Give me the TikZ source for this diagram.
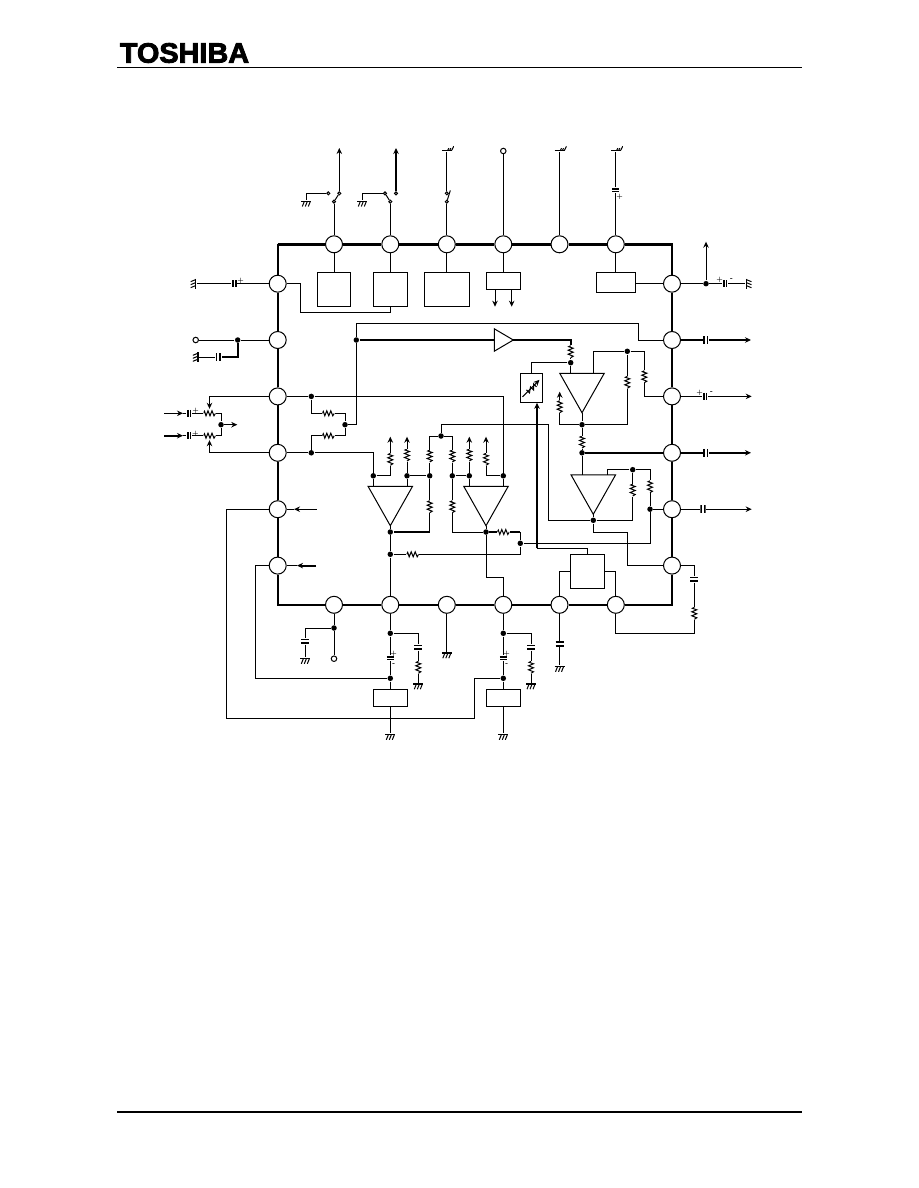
\documentclass[tikz,border=0pt]{standalone}
\usepackage{fontspec}
\usetikzlibrary{shapes.geometric}
\usetikzlibrary{arrows.meta}
\newfontfamily\logofont[FakeStretch=1.03,FakeBold=3]{Liberation Sans Bold}
\tikzstyle{arrow} = [->,>={Stealth[length=6pt,width=5.5pt]}]
\tikzstyle{bus} = [line width=2pt]
\tikzstyle{border} = [line width=2.4pt]
\tikzstyle{pad} = [circle, draw=black, minimum size=17, inner sep=0pt]
\tikzstyle{junction} = [circle, fill=black, minimum size=5.5, inner sep=0pt]
\tikzstyle{term} = [circle, draw=black, minimum size=3, inner sep=0pt]
\tikzstyle{openpad} = [circle, draw=black, minimum size=5.5, inner sep=0pt]
\tikzstyle{block} = [rectangle, draw=black, inner sep=0pt]
\tikzstyle{amp} = [isosceles triangle, isosceles triangle stretches, draw=black, inner sep=0pt, outer sep=0pt,
shape border rotate=-90, minimum width=44.5, minimum height=39.4, anchor=apex]
\tikzstyle{sign} = [font=\fontsize{6.5}{6.5}\selectfont\bfseries, inner sep=0pt]
\tikzstyle{resv} = [rectangle, inner sep=0pt, minimum width=8, minimum height=12, path picture={
\draw[shift={(path picture bounding box.center)}] (0,-6) -- (-2,-5) -- (2.5,-3.5) -- (-2.5,-1.5) -- (2.5,0.5) -- (-2.5,2.5) -- (2.5,4.5) -- (0,6);}]
\tikzstyle{resh} = [rectangle, inner sep=0pt, minimum width=12, minimum height=8, path picture={
\draw[shift={(path picture bounding box.center)}] (-6,0) -- (-5,-2) -- (-3.5,2.5) -- (-1.5,-2.5) -- (0.5,2.5) -- (2.5,-2.5) -- (4.5,2.5) -- (6,0);}]
\tikzstyle{capv} = [rectangle, inner sep=0pt, minimum width=10, minimum height=5.4, path picture={
\draw[shift={(path picture bounding box.center)},line width=1.6pt] (-4,-1.9) -- (4,-1.9) (-4,1.9) -- (4,1.9);}]
\tikzstyle{caph} = [rectangle, inner sep=0pt, minimum width=5.4, minimum height=10, path picture={
\draw[shift={(path picture bounding box.center)},line width=1.6pt] (-1.9,-4) -- (-1.9,4) (1.9,-4) -- (1.9,4);}]
\tikzstyle{pcapv} = [rectangle, inner sep=0pt, minimum width=10, minimum height=5, path picture={
\draw[shift={(path picture bounding box.center)},line width=2pt] (-3.5,-1.3) -- (3.5,-1.3) (-3.5,1.3) -- (3.5,1.3);
\draw[shift={(path picture bounding box.center)},white,line width=0.5pt] (-4,0) -- (4,0);}]
\tikzstyle{pcaph} = [rectangle, inner sep=0pt, minimum width=5, minimum height=10, path picture={
\draw[shift={(path picture bounding box.center)},line width=2pt] (-1.3,-3.5) -- (-1.3,3.5) (1.3,-3.5) -- (1.3,3.5);
\draw[shift={(path picture bounding box.center)},white,line width=0.5pt] (0,-4) -- (0,4);}]
\tikzstyle{gnddown} = [rectangle, inner sep=0pt, minimum width=14, minimum height=6, anchor=north, path picture={
\draw[shift={(path picture bounding box.center)}] (-2,-2) -- (-4,3) (1,-2) -- (-1,3) (4,-2) -- (2,3);
\draw[shift={(path picture bounding box.center)},line width=1.4pt] (-5,-2.2) -- (5,-2.2);}]
\tikzstyle{gndup} = [rectangle, inner sep=0pt, minimum width=14, minimum height=6, anchor=south, path picture={
\draw[shift={(path picture bounding box.center)}] (1,2) -- (2,0) (3,2) -- (4,0) (5,2) -- (7,-2);
\draw[shift={(path picture bounding box.center)},line width=1.4pt] (-5,2.2) -- (5,2.2);}]
\tikzstyle{gndleft} = [rectangle, inner sep=0pt, minimum width=6, minimum height=14, anchor=east, path picture={
\draw[shift={(path picture bounding box.center)}] (2,-4) -- (-3,-2) (2,-1) -- (-3,1) (2,2) -- (-3,4);
\draw[shift={(path picture bounding box.center)},line width=1.4pt] (2.2,-5) -- (2.2,5);}]
\tikzstyle{gndright} = [rectangle, inner sep=0pt, minimum width=6, minimum height=14, anchor=west, path picture={
\draw[shift={(path picture bounding box.center)}] (-2,-4) -- (3,-2) (-2,-1) -- (3,1) (-2,2) -- (3,4);
\draw[shift={(path picture bounding box.center)},line width=1.4pt] (-2.2,-5) -- (-2.2,5);}]

\begin{document}
\begin{tikzpicture}[x=1pt,y=-1pt,line width=1pt]
	\useasboundingbox (0,0) rectangle (918,1188);
	% header and footer
	\node (logo) at (184.5,53) {\logofont\fontsize{28}{28}\selectfont TOSHIBA};
	\coordinate (hl) at (117,68);
	\coordinate (hr) at (802,68);
	\coordinate (fl) at (117,1112);
	\coordinate (fr) at (802,1112);
	\draw (hl) -- (hr);
	\draw[line width=1.6pt] (fl) -- (fr);
	% pads
	\node (t1) at (334,244.3) [pad] {};
	\node (t2) at (390.3,244.3) [pad] {};
	\node (t3) at (446.8,244.3) [pad] {};
	\node (t4) at (503.3,244.3) [pad] {};
	\node (t5) at (559.5,244.3) [pad] {};
	\node (t6) at (615.8,244.3) [pad] {};
	\node (b1) at (334,604.8) [pad] {};
	\node (b2) at (390.3,604.8) [pad] {};
	\node (b3) at (446.8,604.8) [pad] {};
	\node (b4) at (503.3,604.8) [pad] {};
	\node (b5) at (559.5,604.8) [pad] {};
	\node (b6) at (615.8,604.8) [pad] {};
	\node (l1) at (277.7,283.7) [pad] {};
	\node (l2) at (277.7,340) [pad] {};
	\node (l3) at (277.7,396.4) [pad] {};
	\node (l4) at (277.7,452.8) [pad] {};
	\node (l5) at (277.7,509.2) [pad] {};
	\node (l6) at (277.7,565.6) [pad] {};
	\node (r1) at (672,283.7) [pad] {};
	\node (r2) at (672,340) [pad] {};
	\node (r3) at (672,396.4) [pad] {};
	\node (r4) at (672,452.8) [pad] {};
	\node (r5) at (672,509.2) [pad] {};
	\node (r6) at (672,565.6) [pad] {};
	\coordinate (ctl) at (277.7,244.3);
	\coordinate (ctr) at (672,244.3);
	\coordinate (cbr) at (672,604.8);
	\coordinate (cbl) at (277.7,604.8);
	\draw[border] (ctl) -- (t1) (t1) -- (t2) (t2) -- (t3) (t3) -- (t4) (t4) -- (t5) (t5) -- (t6) (t6) -- (ctr) -- (r1);
	\draw[border] (r1) -- (r2) (r2) -- (r3) (r3) -- (r4) (r4) -- (r5) (r5) -- (r6) (r6) -- (cbr) -- (b6);
	\draw[border] (b6) -- (b5) (b5) -- (b4) (b4) -- (b3) (b3) -- (b2) (b2) -- (b1) (b1) -- (cbl) -- (l6);
	\draw[border] (l6) -- (l5) (l5) -- (l4) (l4) -- (l3) (l3) -- (l2) (l2) -- (l1) (l1) -- (ctl);
	% top side
	\node (t1sw) at (334,201.7) [term] {};
	\node (t1a) at (339.3,193.3) [term] {};
	\node (t1b) at (328.3,193.3) [term] {};
	\node (t1g) at (306.3,200) [gnddown] {};
	\coordinate (t1out) at (339.3,148);
	\draw (t1) -- (t1sw);
	\draw (t1sw) -- (t1a);
	\draw[arrow] (t1a) -- (t1out);
	\draw (t1b) -| (t1g);
	\node (t2sw) at (390.3,201.7) [term] {};
	\node (t2a) at (385,193.3) [term] {};
	\node (t2b) at (396,193.3) [term] {};
	\node (t2g) at (362.3,200) [gnddown] {};
	\coordinate (t2out) at (396,148);
	\draw (t2) -- (t2sw);
	\draw (t2sw) -- (t2a);
	\draw[arrow,bus] (t2b) -- (t2out);
	\draw (t2a) -| (t2g);
	\node (t3sw) at (446.8,201.7) [term] {};
	\node (t3a) at (446.8,193.3) [term] {};
	\node (t3g) at (446.8,151.7) [gndup] {};
	\coordinate (t3c) at (450.3,190.5);
	\draw (t3) -- (t3sw);
	\draw (t3sw) -- (t3c);
	\draw (t3a) -- (t3g);
	\node (t4end) at (503.3,151) [openpad] {};
	\draw (t4) -- (t4end);
	\node (t5g) at (559.5,151.7) [gndup] {};
	\draw (t5) -- (t5g);
	\node (t6c) at (615.8,190) [pcapv] {};
	\node (t6g) at (615.8,151.7) [gndup] {};
	\node (t6s) at (619.5,196.7) [sign] {+};
	\draw (t6) -- (t6c);
	\draw (t6c) -- (t6g);
	\node (bx1) at (334,289.3) [block, minimum width=33.4, minimum height=34] {};
	\node (bx2) at (390.3,289.3) [block, minimum width=34, minimum height=34] {};
	\node (bx3) at (446.8,289.3) [block, minimum width=45, minimum height=34] {};
	\node (bx4) at (503.3,280.8) [block, minimum width=34, minimum height=17] {};
	\node (bx6) at (615.8,282.3) [block, minimum width=39, minimum height=20] {};
	\draw (t1) -- (bx1);
	\draw (t2) -- (bx2);
	\draw (t3) -- (bx3);
	\draw (t4) -- (bx4);
	\draw (t6) -- (bx6);
	\draw (bx6.east |- r1) -- (r1);
	\coordinate (bx4l) at (495,289.3);
	\coordinate (bx4r) at (511.7,289.3);
	\coordinate (out4l) at (495,306.7);
	\coordinate (out4r) at (511.7,306.7);
	\draw[arrow] (bx4l) -- (out4l);
	\draw[arrow] (bx4r) -- (out4r);
	\coordinate (k1) at (300.3,283.7);
	\coordinate (k2) at (300.3,312.3);
	\draw (l1) -- (k1) -- (k2) -| (bx2);
	% left side
	\node (cl1) at (234.3,283.7) [pcaph] {};
	\node (gl1) at (197,283.7) [gndleft] {};
	\node (sl1) at (240.7,280.7) [sign] {+};
	\draw (l1) -- (cl1);
	\draw (cl1) -- (gl1);
	\node (el2) at (195.7,340) [openpad] {};
	\node (jl2) at (237.7,340) [junction] {};
	\node (cl2) at (218.3,357.3) [caph] {};
	\node (gl2) at (199.3,357.3) [gndleft] {};
	\draw (l2) -- (jl2);
	\draw (jl2) -- (el2);
	\draw[bus] (jl2) |- (cl2);
	\draw (cl2) -- (gl2);
	\coordinate (in1) at (164,413.3);
	\coordinate (in1h) at (183,413.3);
	\coordinate (in2) at (164,435.7);
	\coordinate (in2h) at (183,435.7);
	\node (cin1) at (189,413.3) [pcaph] {};
	\node (cin2) at (189,435.7) [pcaph] {};
	\node (sin1) at (195.7,411) [sign] {+};
	\node (sin2) at (195.3,433.5) [sign] {+};
	\node (rv1) at (209.5,413.3) [resh] {};
	\node (rv2) at (209.5,435.7) [resh] {};
	\node (jsum) at (221,424.7) [junction] {};
	\coordinate (sumout) at (237.3,424.7);
	\draw[arrow] (in1) -- (in1h);
	\draw (in1h) -- (cin1);
	\draw[arrow,bus] (in2) -- (in2h);
	\draw (in2h) -- (cin2);
	\draw (cin1) -- (rv1);
	\draw (cin2) -- (rv2);
	\draw (rv1) -| (jsum);
	\draw (rv2) -| (jsum);
	\draw[arrow] (jsum) -- (sumout);
	\draw[arrow] (l3) -| (rv1);
	\draw[arrow] (l4) -| (rv2);
	\coordinate (in5) at (316.7,509.2);
	\coordinate (in5h) at (294,509.2);
	\coordinate (in6) at (316,565.6);
	\coordinate (in6h) at (297,565.6);
	\draw[arrow] (in5) -- (in5h);
	\draw (in5h) -- (l5);
	\draw[arrow,bus] (in6) -- (in6h);
	\draw (in6h) -- (l6);
	% mixer inputs
	\node (jl3) at (311.3,396.4) [junction] {};
	\node (jl4) at (311.3,452.8) [junction] {};
	\node (jm) at (345,424.7) [junction] {};
	\node (jn) at (356.3,340) [junction] {};
	\node (rf1) at (328.3,413.3) [resh] {};
	\node (rf2) at (328.3,435.7) [resh] {};
	\coordinate (k3) at (638.3,323.3);
	\draw (jl3) |- (rf1);
	\draw (rf1) -| (jm);
	\draw (jl4) |- (rf2);
	\draw (rf2) -| (jm);
	\draw (jm) -| (jn);
	\draw (jn) |- (k3) |- (r2);
	\draw (l3) -- (jl3);
	\draw (l4) -- (jl4);
	% buffer and upper amplifier
	\node (buf) at (513.3,340) [amp, shape border rotate=0, minimum width=22.4, minimum height=19] {};
	\node (ra1) at (570.7,351.7) [resv] {};
	\node (ja1) at (570.7,362.7) [junction] {};
	\coordinate (aa1) at (570.7,373.3);
	\node (ampa) at (582,412.7) [amp] {};
	\draw[bus] (jn) -- (buf);
	\draw[bus] (buf) -| (ra1);
	\draw (ra1) -- (ja1);
	\draw (ja1) -- (aa1);
	\node (vbox) at (531.5,387.8) [block, minimum width=22.4, minimum height=29, path picture={
	\draw[shift={(path picture bounding box.center)},arrow] (-9,9) -- (8,-8);
	\draw[shift={(path picture bounding box.center)}] (-5,2) -- (-2,5) -- (-1,-1) -- (2,2) -- (2,-4) -- (5,-1);}] {};
	\coordinate (k4) at (537,548.3);
	\draw (ja1) -| (vbox);
	\draw[arrow,bus] (k4) -- (k4 |- vbox.south);
	\node (jsw) at (587.3,571.3) [block, minimum width=34, minimum height=34] {};
	\draw (k4) -| (jsw);
	\draw (jsw.west) -| (b5);
	\draw (jsw.east) -| (b6);
	\node (ja2) at (582,424.7) [junction] {};
	\node (ra2) at (559.7,406.7) [resv] {};
	\coordinate (ra2out) at (559.7,391.7);
	\node (ra3) at (627.3,382.3) [resv] {};
	\node (ja3) at (627.3,351.3) [junction] {};
	\coordinate (aa2) at (593.3,373.3);
	\node (ra4) at (644.3,376.7) [resv] {};
	\node (ra5) at (582,442) [resv] {};
	\node (jb1) at (582,452.8) [junction] {};
	\coordinate (ab1) at (582,475);
	\draw (ampa.apex) -- (ja2);
	\draw (ja2) -| (ra2);
	\draw[arrow] (ra2) -- (ra2out);
	\draw (ja2) -| (ra3);
	\draw (ra3) -- (ja3);
	\draw (ja3) -| (aa2);
	\draw (ja3) -| (ra4);
	\draw (ra4) |- (r3);
	\draw (ja2) -- (ra5);
	\draw (ra5) -- (jb1);
	\draw[bus] (jb1) -- (r4);
	\draw (jb1) -- (ab1);
	% lower right amplifier
	\node (ampb) at (593.3,514.3) [amp] {};
	\node (jb2) at (593.3,520.3) [junction] {};
	\node (jc) at (441,436) [junction] {};
	\coordinate (k5) at (548.3,424.7);
	\node (rb1) at (632.7,490) [resv] {};
	\node (jb3) at (632.7,469.7) [junction] {};
	\coordinate (ab2) at (607.3,475);
	\node (rb2) at (650,486.7) [resv] {};
	\node (jr5) at (650,509.2) [junction] {};
	\node (jo) at (520.3,543.3) [junction] {};
	\coordinate (k6) at (627.3,532.3);
	\draw (ampb.apex) -- (jb2);
	\draw (jb2) -| (k5) -| (jc);
	\draw (jb2) -| (rb1);
	\draw (rb1) -- (jb3);
	\draw (jb3) -| (ab2);
	\draw (jb3) -| (rb2);
	\draw (rb2) -- (jr5);
	\draw (jr5) -- (r5);
	\draw (jr5) |- (jo);
	\draw (jb2) |- (k6) |- (r6);
	% lower left amplifiers
	\node (ampc) at (390.3,525.7) [amp] {};
	\node (ampd) at (486,525.7) [amp] {};
	\node (jc1) at (390.3,532) [junction] {};
	\node (jd1) at (486,532) [junction] {};
	\node (jc2) at (373.3,475.8) [junction] {};
	\node (jc3) at (407,475.8) [junction] {};
	\node (jc4) at (429.7,475.8) [junction] {};
	\node (jd2) at (452.3,475.8) [junction] {};
	\node (jd3) at (469.3,475.8) [junction] {};
	\node (jd4) at (503.3,475.8) [junction] {};
	\node (jc5) at (390.3,554.3) [junction] {};
	\coordinate (ac1) at (373.3,486.3);
	\coordinate (ac2) at (407,486.3);
	\coordinate (ad1) at (469.3,486.3);
	\coordinate (ad2) at (503.3,486.3);
	\node (rc1) at (390.3,459.3) [resv] {};
	\node (rc2) at (407,455) [resv] {};
	\node (rc3) at (429.7,456) [resv] {};
	\node (rc4) at (429.7,506.7) [resv] {};
	\node (rd1) at (452.3,456) [resv] {};
	\node (rd2) at (452.3,506.7) [resv] {};
	\node (rd3) at (469.3,455) [resv] {};
	\node (rd4) at (486,459.3) [resv] {};
	\node (rd5) at (503.3,532) [resh] {};
	\node (rs) at (412.7,554.3) [resh] {};
	\coordinate (oc1) at (390.3,436.7);
	\coordinate (oc2) at (407,436.7);
	\coordinate (od3) at (469.3,436.7);
	\coordinate (od4) at (486,436.7);
	\coordinate (k7) at (429.7,532);
	\coordinate (k8) at (520.3,532);
	\coordinate (k9) at (503.3,577);
	\draw (jl4) -| (jc2);
	\draw (jc2) -- (ac1);
	\draw (jc2) -| (rc1);
	\draw[arrow] (rc1) -- (oc1);
	\draw (jc3) -- (jc4);
	\draw (jc3) -- (ac2);
	\draw (jc3) -- (rc2);
	\draw[arrow] (rc2) -- (oc2);
	\draw (jc4) -- (rc3);
	\draw (rc3) |- (jc);
	\draw (jc4) -- (rc4);
	\draw (rc4) -- (k7);
	\draw[bus] (k7) -- (jc1);
	\draw (ampc.apex) -- (jc1);
	\draw (jc1) -- (jc5);
	\draw (jc5) -- (b2);
	\draw (jc5) -- (rs);
	\draw (rs) -| (jo);
	\draw (jc) -| (rd1);
	\draw (rd1) -- (jd2);
	\draw (jd2) -- (rd2);
	\draw (rd2) |- (jd1);
	\draw (jd2) -- (jd3);
	\draw (jd3) -- (ad1);
	\draw (jd3) -- (rd3);
	\draw[arrow] (rd3) -- (od3);
	\draw (jd4) -| (rd4);
	\draw[arrow] (rd4) -- (od4);
	\draw (jd4) -- (ad2);
	\draw (jl3) -| (jd4);
	\draw[bus] (jd1) -- (rd5);
	\draw[bus] (rd5) -- (k8);
	\draw (k8) -- (jo);
	\draw (ampd.apex) -- (jd1);
	\draw (jd1) |- (k9) -- (b4);
	% right side
	\node (jr1) at (706,283.7) [junction] {};
	\node (cr1) at (725,283.7) [pcaph] {};
	\node (gr1) at (745,283.7) [gndright] {};
	\node (sr1a) at (719.5,280) [sign] {+};
	\node (sr1b) at (731.5,280) [sign] {-};
	\coordinate (or1) at (706,241.7);
	\draw (r1) -- (jr1);
	\draw[arrow] (jr1) -- (or1);
	\draw (jr1) -- (cr1);
	\draw (cr1) -- (gr1);
	\node (cr2) at (705.7,340) [caph] {};
	\coordinate (or2) at (751,340);
	\draw[bus] (r2) -- (cr2);
	\draw[arrow,bus] (cr2) -- (or2);
	\node (cr3) at (705,396.4) [pcaph] {};
	\node (sr3a) at (699.5,393) [sign] {+};
	\node (sr3b) at (711.5,393) [sign] {-};
	\coordinate (or3) at (751.7,396.4);
	\draw (r3) -- (cr3);
	\draw[arrow] (cr3) -- (or3);
	\node (cr4) at (705.7,452.8) [caph] {};
	\coordinate (or4) at (751,452.8);
	\draw[bus] (r4) -- (cr4);
	\draw[arrow,bus] (cr4) -- (or4);
	\node (cr5) at (703,509.2) [caph] {};
	\coordinate (or5) at (751.7,509.2);
	\draw (r5) -- (cr5);
	\draw[arrow] (cr5) -- (or5);
	\node (cr6) at (694.3,579.3) [capv] {};
	\node (rr6) at (694.3,613.3) [resv] {};
	\coordinate (k10) at (694.3,633.3);
	\draw (r6) -| (cr6);
	\draw (cr6) -- (rr6);
	\draw (rr6) -- (k10) -| (b6);
	% bottom side
	\node (jz1) at (334,628) [junction] {};
	\node (eb1) at (334,658.7) [openpad] {};
	\node (cb1) at (305.3,641.3) [capv] {};
	\node (gb1) at (305.3,657.3) [gnddown] {};
	\draw (b1) -- (jz1);
	\draw (jz1) -- (eb1);
	\draw (jz1) -| (cb1);
	\draw (cb1) -- (gb1);
	\node (jz2) at (390.3,633.3) [junction] {};
	\node (cb2) at (390.3,658) [pcapv] {};
	\node (sb2a) at (393.7,653.5) [sign] {+};
	\node (sb2b) at (393.7,664.5) [sign] {-};
	\node (jy2) at (390.3,678.3) [junction] {};
	\node (bx7) at (390.3,697.8) [block, minimum width=34, minimum height=17] {};
	\node (gb2) at (390.3,733.3) [gnddown] {};
	\node (cb2r) at (418.3,647.3) [capv] {};
	\node (rb2r) at (418.3,667.3) [resv] {};
	\node (gb2r) at (418.3,682.7) [gnddown] {};
	\draw (b2) -- (jz2);
	\draw (jz2) -- (cb2);
	\draw (cb2) -- (jy2);
	\draw (jy2) -- (bx7);
	\draw (bx7) -- (gb2);
	\draw (jz2) -| (cb2r);
	\draw (cb2r) -- (rb2r);
	\draw (rb2r) -- (gb2r);
	\node (gb3) at (446.8,651.7) [gnddown] {};
	\draw (b3) -- (gb3);
	\node (jz4) at (503.3,633.3) [junction] {};
	\node (cb4) at (503.3,658) [pcapv] {};
	\node (sb4a) at (506.7,653.5) [sign] {+};
	\node (sb4b) at (506.7,664.5) [sign] {-};
	\node (jy4) at (503.3,678.3) [junction] {};
	\node (bx8) at (503.3,697.8) [block, minimum width=34, minimum height=17] {};
	\node (gb4) at (503.3,733.3) [gnddown] {};
	\node (cb4r) at (531,647.3) [capv] {};
	\node (rb4r) at (531,667.3) [resv] {};
	\node (gb4r) at (531,682.7) [gnddown] {};
	\draw (b4) -- (jz4);
	\draw (jz4) -- (cb4);
	\draw (cb4) -- (jy4);
	\draw (jy4) -- (bx8);
	\draw (bx8) -- (gb4);
	\draw (jz4) -| (cb4r);
	\draw (cb4r) -- (rb4r);
	\draw (rb4r) -- (gb4r);
	\node (cb5) at (559.5,644) [capv] {};
	\node (gb5) at (559.5,665.3) [gnddown] {};
	\draw (b5) -- (cb5);
	\draw (cb5) -- (gb5);
	% long returns
	\coordinate (k11) at (226.3,718.3);
	\coordinate (k12) at (474.3,718.3);
	\coordinate (k13) at (255,678.3);
	\draw (l5) -| (k11) -- (k12) |- (jy4);
	\draw (l6) -| (k13) -- (jy2);
\end{tikzpicture}
\end{document}
